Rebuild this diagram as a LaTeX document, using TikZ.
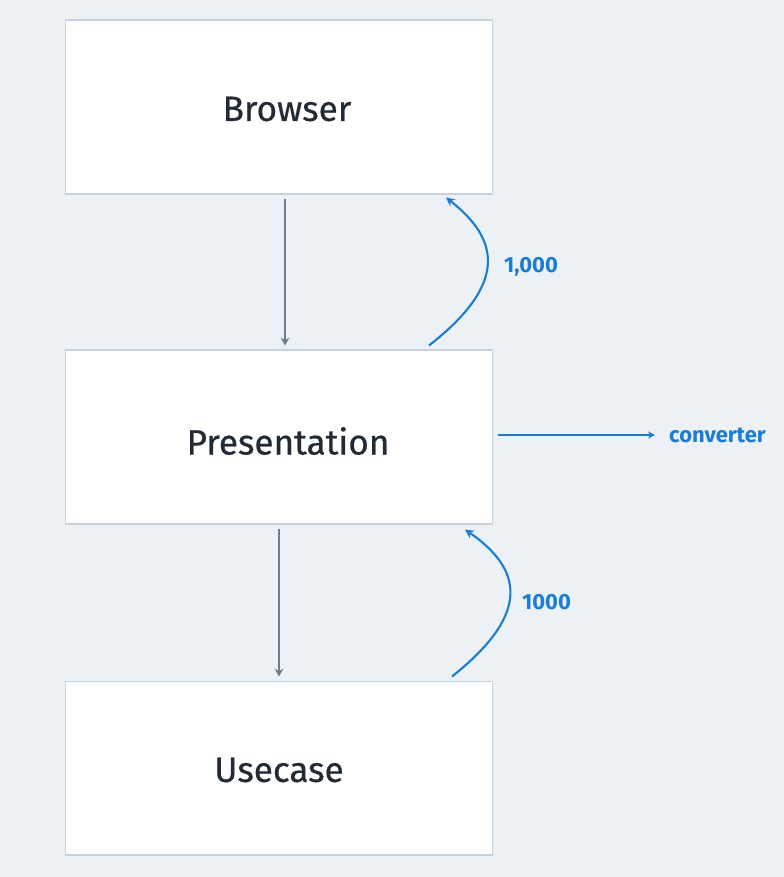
\documentclass[tikz,border=0pt]{standalone}
\usepackage{fontspec}
\setmainfont{Fira Sans}
\newfontfamily\layerfont[FakeBold=0.6]{Fira Sans}
\usepackage{tikz}
\usetikzlibrary{arrows.meta,positioning,calc}

\definecolor{bgcol}{HTML}{ECF1F6}
\definecolor{boxline}{HTML}{C7D1DB}
\definecolor{textcol}{HTML}{212B36}
\definecolor{flowgray}{HTML}{6E7D8C}
\definecolor{flowblue}{HTML}{1B7CD4}

\tikzset{
  layer/.style={draw=boxline, fill=white, line width=0.6pt, inner sep=0pt,
    minimum width=8.56cm, minimum height=3.48cm},
  layertext/.style={text=textcol, font=\layerfont\fontsize{20}{24}\selectfont},
  callflow/.style={draw=flowgray, line width=1.1pt, -{Stealth[length=4.5pt,width=5pt]}},
  retflow/.style={draw=flowblue, line width=1.2pt, -{Stealth[length=5pt,width=5pt]}},
  bluelabel/.style={text=flowblue, font=\fontsize{12.5}{14}\selectfont\bfseries}
}

\begin{document}
\begin{tikzpicture}[x=0.02cm, y=-0.02cm]
\fill[bgcol] (0,0) rectangle (784,877);
\useasboundingbox (0,0) rectangle (784,877);

\node[layer, label={[layertext, xshift=0.16cm, yshift=-0.04cm]center:Browser}] (browser) at (279,107) {};
\node[layer, label={[layertext, xshift=0.18cm, yshift=-0.08cm]center:Presentation}] (presentation) at (279,437) {};
\node[layer, label={[layertext, yshift=-0.04cm]center:Usecase}] (usecase) at (279,768) {};

% calls going down
\draw[callflow] ($(browser.south)+(6,4)$) -- ($(presentation.north)+(6,-4)$);
\draw[callflow] (presentation.south) ++(0,4) -- ($(usecase.north)+(0,-4)$);

% values coming back
\draw[retflow] ($(presentation.north)+(150,-4)$)
  .. controls ($(presentation.north)+(232,-68)$) and ($(presentation.north)+(218,-112)$)
  .. ($(browser.south)+(167,3)$);
\node[bluelabel, anchor=west] (ret1) at (498,267) {1,000};

\draw[retflow] ($(usecase.north)+(173,-4)$)
  .. controls ($(usecase.north)+(255,-69)$) and ($(usecase.north)+(241,-113)$)
  .. ($(presentation.south)+(186,5)$);
\node[bluelabel, anchor=west] (ret2) at (516,602) {1000};

% side output
\node[bluelabel, anchor=west] (conv) at (663,435) {converter};
\draw[retflow, line width=1pt, -{Stealth[length=4pt,width=4pt]}] ($(presentation.east)+(5,-2)$) -- ($(conv.west)+(-8,0)$);
\end{tikzpicture}
\end{document}
